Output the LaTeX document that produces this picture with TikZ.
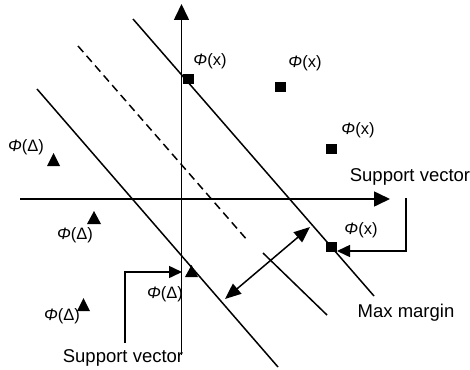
\documentclass[tikz,border=0pt]{standalone}
\usepackage{fontspec}
\setmainfont{Liberation Sans}
\usetikzlibrary{arrows.meta}
\begin{document}
\begin{tikzpicture}[x=1pt,y=-1pt,
  ln/.style={line width=1.5pt},
  axis/.style={line width=1.6pt,-{Triangle[length=16pt,width=15pt]}},
  sq/.style={fill=black,minimum width=11pt,minimum height=10pt,inner sep=0pt,draw=none},
  tri/.style={fill=black},
  lab/.style={font=\fontsize{16.5}{18}\selectfont,inner sep=0pt},
  big/.style={font=\fontsize{18.5}{20}\selectfont,inner sep=0pt},
  conn/.style={line width=1.5pt,-{Triangle[length=13pt,width=12pt]}}]
\useasboundingbox (0,0) rectangle (470,369);
% axes
\coordinate (yb) at (181.5,355);
\coordinate (yt) at (181.5,4);
\coordinate (xl) at (20,199);
\coordinate (xr) at (390,199);
\draw[axis] (yb) -- (yt);
\draw[axis] (xl) -- (xr);
% hyperplanes
\coordinate (r1) at (133,19); \coordinate (r2) at (374,296);
\coordinate (l1) at (37,89);  \coordinate (l2) at (278,367);
\coordinate (d1) at (78,46);  \coordinate (d2) at (248,241);
\coordinate (m1) at (263,253); \coordinate (m2) at (327,315);
\draw[ln] (r1) -- (r2);
\draw[ln] (l1) -- (l2);
\draw[ln,dash pattern=on 8pt off 5pt] (d1) -- (d2);
\draw[ln] (m1) -- (m2);
% margin arrow
\coordinate (a1) at (225,299); \coordinate (a2) at (310,227);
\draw[line width=1.5pt,{Triangle[length=16pt,width=13pt]}-{Triangle[length=16pt,width=13pt]}] (a1) -- (a2);
% squares
\node[sq] (s1) at (188,79) {};
\node[sq] (s2) at (280,87) {};
\node[sq] (s3) at (331,149) {};
\node[sq] (s4) at (331,247) {};
% triangles
\fill[tri] (47,166) -- (60,166) -- (53.5,153) -- cycle;
\fill[tri] (87,224) -- (101,224) -- (94,211) -- cycle;
\fill[tri] (185,277) -- (198,277) -- (191.5,265) -- cycle;
\fill[tri] (77,311) -- (90,311) -- (83.5,298) -- cycle;
% labels
\node[lab] (px1) at (210,61) {\itshape Φ\upshape(x)};
\node[lab] (px2) at (305,63) {\itshape Φ\upshape(x)};
\node[lab] (px3) at (358,130) {\itshape Φ\upshape(x)};
\node[lab] (px4) at (361,230) {\itshape Φ\upshape(x)};
\node[lab] (pd1) at (26,147) {\itshape Φ\upshape(Δ)};
\node[lab] (pd2) at (75,235) {\itshape Φ\upshape(Δ)};
\node[lab] (pd3) at (165,294) {\itshape Φ\upshape(Δ)};
\node[lab] (pd4) at (62,316) {\itshape Φ\upshape(Δ)};
\node[big] (svb) at (123,358) {Support vector};
\node[big] (svr) at (410,177) {Support vector};
\node[big] (mm) at (406,313) {Max margin};
% support vector connectors
\coordinate (cb) at (125,343);
\coordinate (cr) at (406,198);
\draw[conn] (cb) -- (125,272) -- (182,272);
\draw[conn] (cr) -- (406,251) -- (337,251);
\end{tikzpicture}
\end{document}
